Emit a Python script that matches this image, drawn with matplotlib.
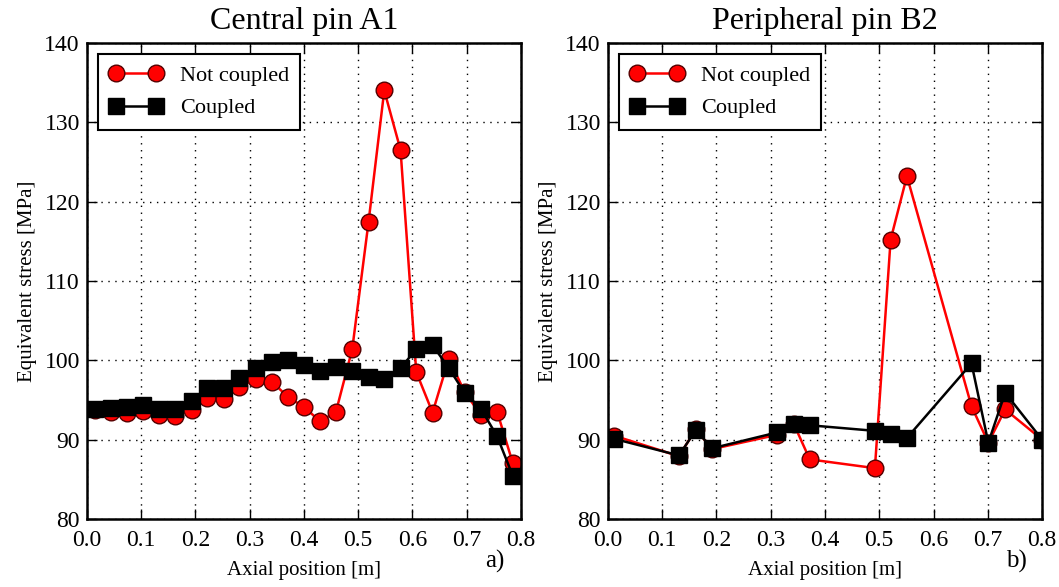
import numpy as np
import matplotlib.pyplot as plt

plt.rcParams['font.family'] = ['Liberation Serif', 'DejaVu Serif']

# Central pin A1: 27 axial nodes
x_a1 = [0.015, 0.044, 0.074, 0.104, 0.133, 0.163, 0.193, 0.222, 0.252, 0.281,
        0.311, 0.341, 0.370, 0.400, 0.430, 0.459, 0.489, 0.519, 0.548, 0.578,
        0.607, 0.637, 0.667, 0.696, 0.726, 0.756, 0.785]
a1_not_coupled = [93.7, 93.5, 93.3, 93.6, 93.1, 93.0, 93.7, 95.2, 95.1, 96.6,
                  97.6, 97.3, 95.4, 94.1, 92.3, 93.5, 101.4, 117.4, 134.0, 126.5,
                  98.5, 93.4, 100.2, 96.0, 93.1, 93.5, 87.0]
a1_coupled = [93.8, 94.0, 94.1, 94.3, 93.9, 93.9, 94.9, 96.5, 96.5, 97.8,
              99.0, 99.8, 100.0, 99.4, 98.7, 99.1, 98.6, 97.9, 97.6, 99.0,
              101.4, 101.9, 99.0, 95.9, 93.9, 90.4, 85.4]

# Peripheral pin B2
x_b2 = [0.011, 0.131, 0.162, 0.192, 0.312, 0.343, 0.372, 0.492, 0.521, 0.551,
        0.670, 0.701, 0.732, 0.800]
b2_not_coupled = [90.5, 87.9, 91.3, 88.8, 90.6, 91.9, 87.5, 86.4, 115.2, 123.2,
                  94.2, 89.6, 93.8, 90.0]
b2_coupled = [90.1, 88.0, 91.2, 88.9, 90.9, 91.9, 91.8, 91.1, 90.7, 90.2,
              99.6, 89.6, 95.9, 90.0]

panels = [
    ("Central pin A1", x_a1, a1_not_coupled, a1_coupled, "a)"),
    ("Peripheral pin B2", x_b2, b2_not_coupled, b2_coupled, "b)"),
]

fig = plt.figure(figsize=(10.59, 5.87), dpi=100)
lefts = [0.082, 0.574]
for (title, xs, nc, c, tag), left in zip(panels, lefts):
    ax = fig.add_axes([left, 0.116, 0.410, 0.811])
    ax.plot(xs, nc, '-o', color='red', lw=1.8, ms=12, mfc='red', mec='#550000',
            mew=1.0, label='Not coupled')
    ax.plot(xs, c, '-s', color='black', lw=1.8, ms=11, mfc='black', mec='black',
            label='Coupled')
    ax.set_xlim(0, 0.8)
    ax.set_ylim(80, 140)
    ax.set_xticks(np.arange(0, 0.81, 0.1))
    ax.set_yticks(np.arange(80, 141, 10))
    ax.xaxis.set_major_formatter(plt.FormatStrFormatter('%.1f'))
    ax.grid(True, color='black', linestyle=(0, (1, 4)), linewidth=1.0)
    ax.tick_params(direction='in', top=True, right=True, length=7, width=1,
                   labelsize=17)
    ax.tick_params(axis='x', pad=8)
    ax.tick_params(axis='y', pad=5)
    for s in ax.spines.values():
        s.set_linewidth(1.8)
    ax.set_title(title, fontsize=23, pad=10)
    ax.set_xlabel('Axial position [m]', fontsize=15, labelpad=7)
    ax.set_ylabel('Equivalent stress [MPa]', fontsize=15, labelpad=5)
    leg = ax.legend(loc='upper left', numpoints=2, fontsize=16, fancybox=False,
                    framealpha=1, edgecolor='black', handlelength=2.4,
                    borderpad=0.5, labelspacing=0.55)
    leg.get_frame().set_linewidth(1.5)
    ax.text(0.94, -0.09, tag, transform=ax.transAxes, fontsize=18,
            ha='center', va='center')

fig.savefig('out.png', dpi=100)
